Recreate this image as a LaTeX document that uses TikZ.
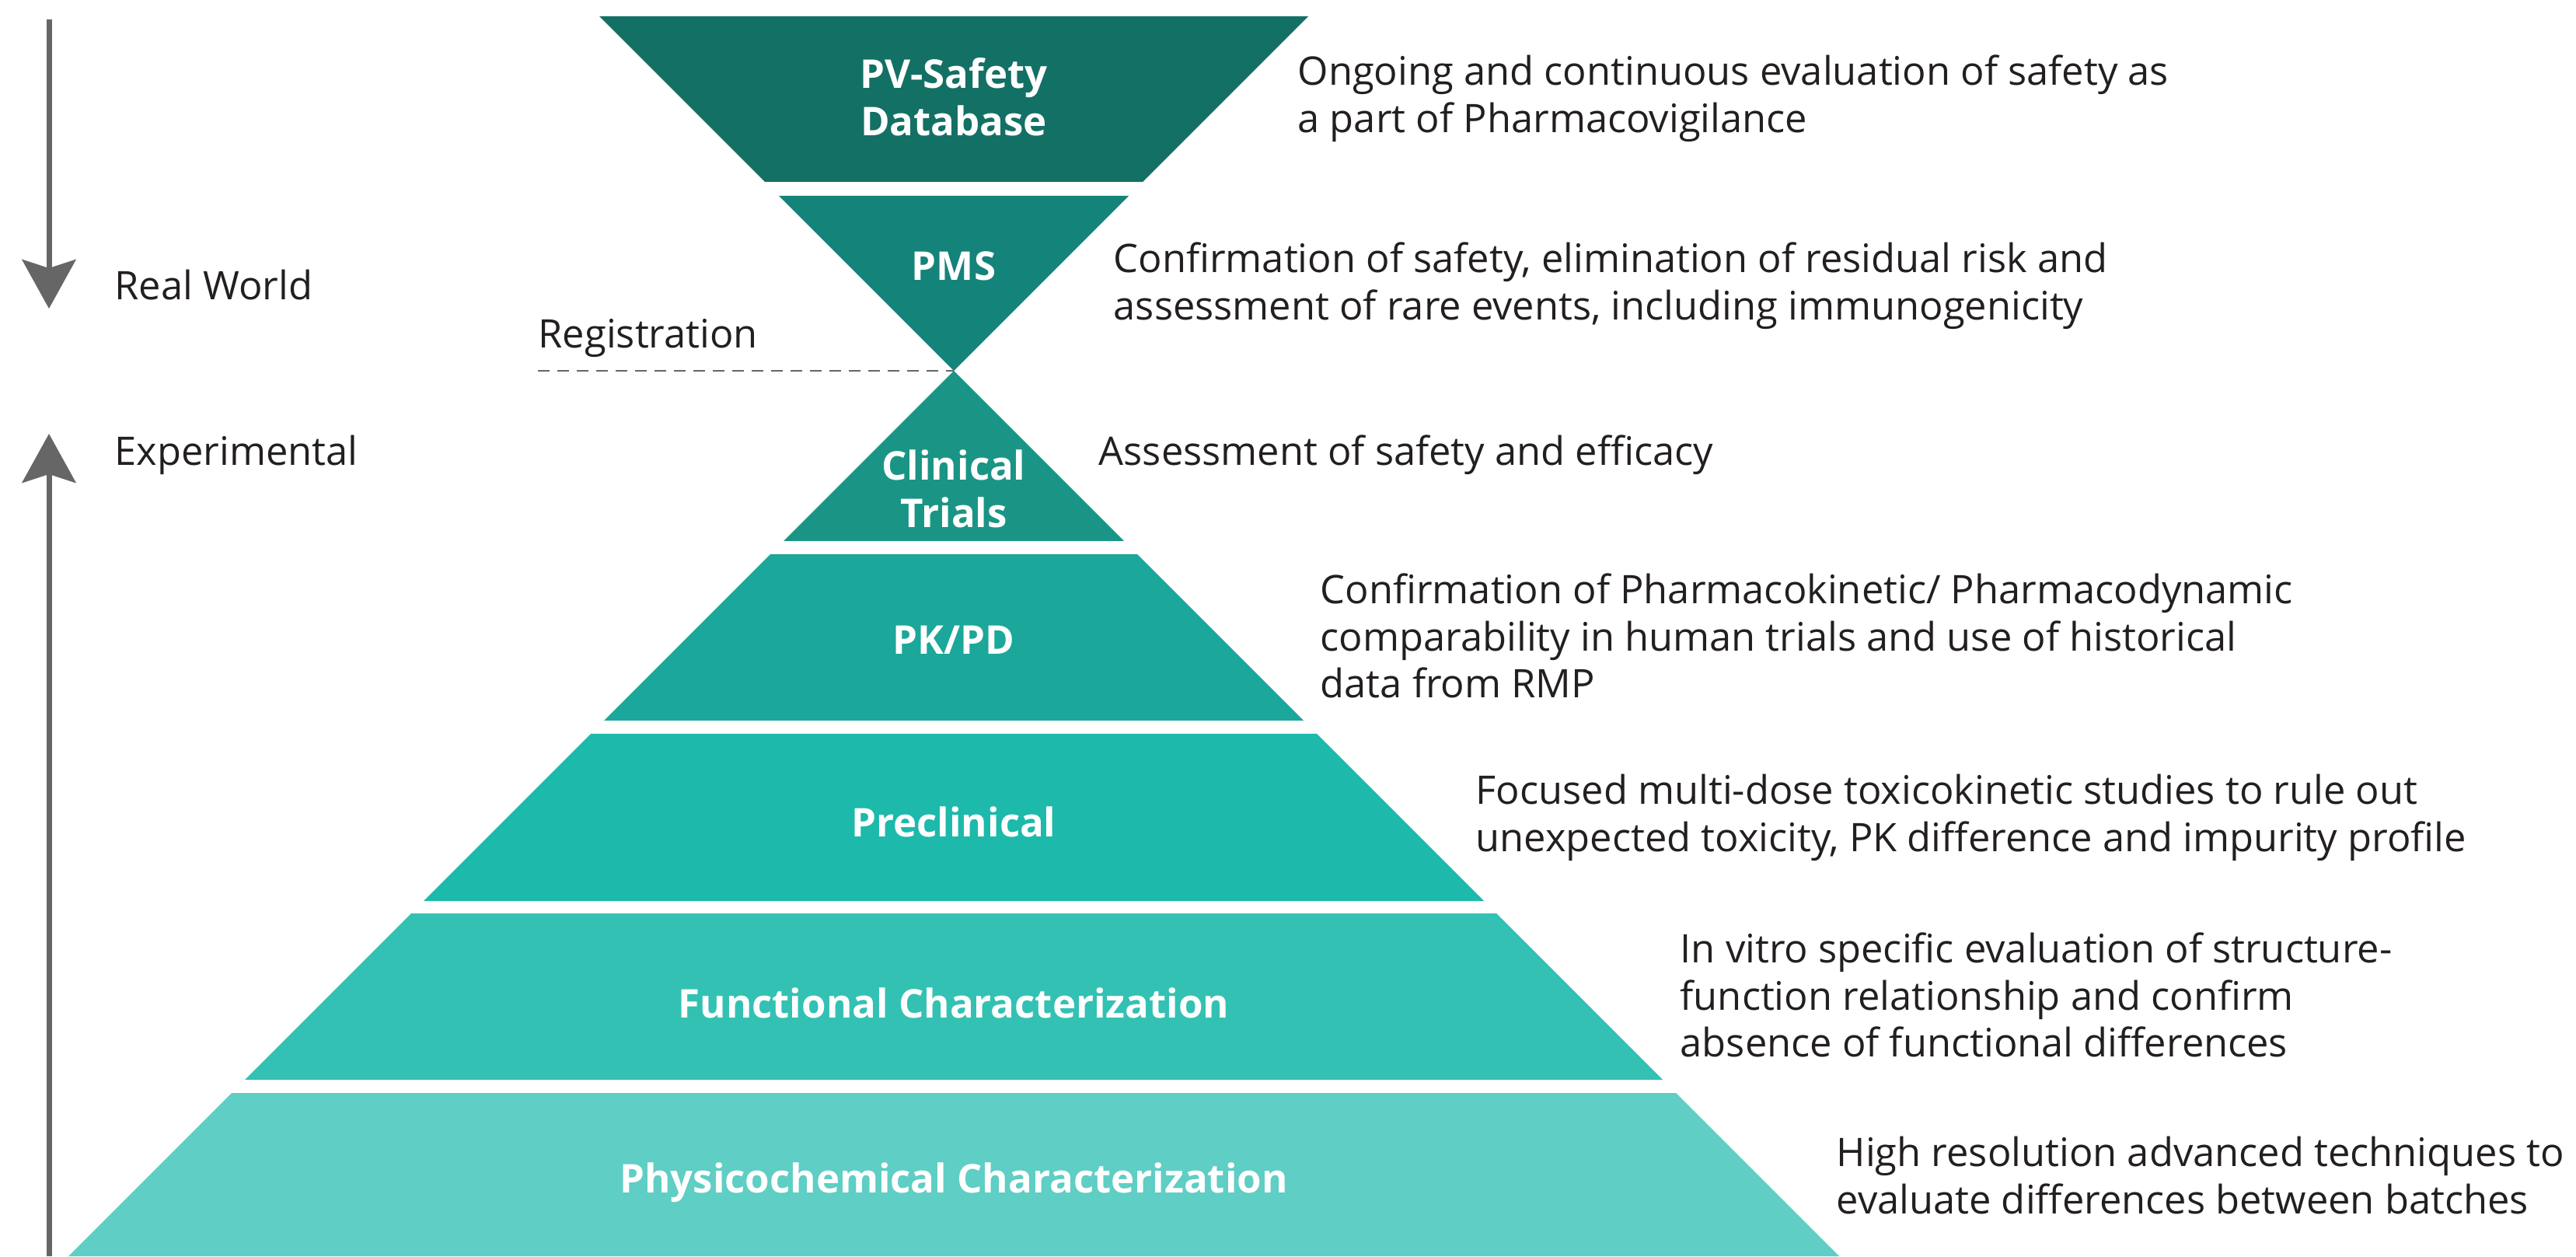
\documentclass[tikz,border=0pt]{standalone}
\usepackage{fontspec}
\setmainfont{Open Sans}
\usetikzlibrary{arrows.meta}

\definecolor{pvcol}{HTML}{137065}
\definecolor{pmscol}{HTML}{14837A}
\definecolor{ctcol}{HTML}{1A9585}
\definecolor{pkcol}{HTML}{1BA79A}
\definecolor{precol}{HTML}{1DB9AB}
\definecolor{funccol}{HTML}{33C1B3}
\definecolor{physcol}{HTML}{5FCEC4}
\definecolor{txtcol}{HTML}{231F20}
\definecolor{arrcol}{HTML}{666666}

\begin{document}
\begin{tikzpicture}[>={Stealth[length=0.63cm,width=0.69cm,inset=0.11cm]},
  level/.style={text=white, font=\fontsize{14.5}{17.4}\selectfont\bfseries, align=center},
  desc/.style={text=txtcol, font=\fontsize{14.4}{17.3}\selectfont, align=left, anchor=west, inner sep=0pt},
  side/.style={text=txtcol, font=\fontsize{14.4}{17.3}\selectfont, anchor=west, inner sep=0pt},
  axis/.style={draw=arrcol, line width=0.07cm}]
  \useasboundingbox (0,0) rectangle (33.14,16.16);

  % inverted part, real world
  \fill[pvcol]  (7.71,15.95) -- (16.83,15.95) -- (14.70,13.82) -- (9.84,13.82) -- cycle;
  \fill[pmscol] (10.02,13.64) -- (14.52,13.64) -- (12.27,11.39) -- cycle;
  % pyramid, experimental
  \fill[ctcol]   (12.27,11.39) -- (14.46,9.20) -- (10.08,9.20) -- cycle;
  \fill[pkcol]   (9.91,9.03) -- (14.63,9.03) -- (16.77,6.89) -- (7.77,6.89) -- cycle;
  \fill[precol]  (7.60,6.72) -- (16.94,6.72) -- (19.09,4.57) -- (5.45,4.57) -- cycle;
  \fill[funccol] (5.29,4.41) -- (19.25,4.41) -- (21.39,2.27) -- (3.15,2.27) -- cycle;
  \fill[physcol] (2.98,2.10) -- (21.56,2.10) -- (23.66,0) -- (0.88,0) -- cycle;

  \node[level] (l_pv)   at (12.27,14.91) {PV-Safety\\Database};
  \node[level] (l_pms)  at (12.27,12.74) {PMS};
  \node[level] (l_ct)   at (12.27,9.87)  {Clinical\\Trials};
  \node[level] (l_pk)   at (12.27,7.93)  {PK/PD};
  \node[level] (l_pre)  at (12.27,5.59)  {Preclinical};
  \node[level] (l_func) at (12.27,3.26)  {Functional Characterization};
  \node[level] (l_phys) at (12.27,0.95)  {Physicochemical Characterization};

  \node[desc] (d_pv)   at (16.69,14.89)  {Ongoing and continuous evaluation of safety as\\a part of Pharmacovigilance};
  \node[desc] (d_pms)  at (14.32,12.48)  {Confirmation of safety, elimination of residual risk and\\assessment of rare events, including immunogenicity};
  \node[desc] (d_ct)   at (14.13,10.31)  {Assessment of safety and efficacy};
  \node[desc] (d_pk)   at (16.98,7.98)   {Confirmation of Pharmacokinetic/ Pharmacodynamic\\comparability in human trials and use of historical\\data from RMP};
  \node[desc] (d_pre)  at (18.98,5.64)   {Focused multi-dose toxicokinetic studies to rule out\\unexpected toxicity, PK difference and impurity profile};
  \node[desc] (d_func) at (21.61,3.36)   {In vitro specific evaluation of structure-\\function relationship and confirm\\absence of functional differences};
  \node[desc] (d_phys) at (23.62,1.04)   {High resolution advanced techniques to\\evaluate differences between batches};

  \node[side] (real) at (1.47,12.49) {Real World};
  \node[side] (expm) at (1.47,10.31) {Experimental};
  \node[side] (reg)  at (6.92,11.81) {Registration};

  \coordinate (apex)   at (12.27,11.39);
  \coordinate (regl)   at (6.92,11.39);
  \coordinate (rw_top) at (0.63,15.91);
  \coordinate (rw_end) at (0.63,12.19);
  \coordinate (ex_bot) at (0.63,0);
  \coordinate (ex_end) at (0.63,10.58);

  \draw[arrcol, line width=0.02cm, dash pattern=on 0.15cm off 0.1cm] (regl) -- (apex);
  \draw[axis, ->] (rw_top) -- (rw_end);
  \draw[axis, ->] (ex_bot) -- (ex_end);
\end{tikzpicture}
\end{document}
